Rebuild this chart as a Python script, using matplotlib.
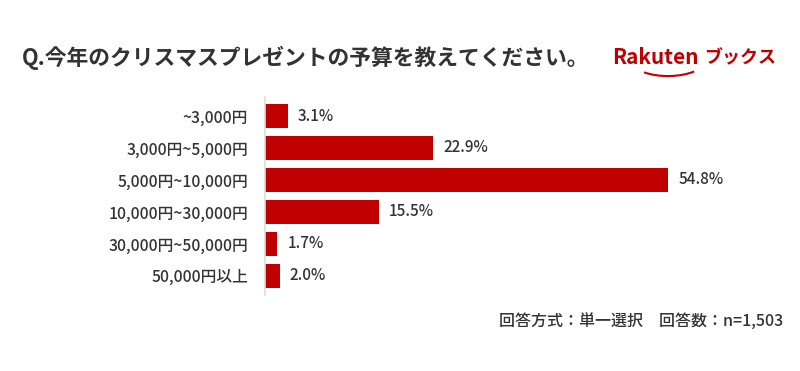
import matplotlib.pyplot as plt
from matplotlib.patches import Arc

plt.rcParams['font.family'] = ['Noto Sans CJK JP', 'DejaVu Sans']

# データ
categories = ["~3,000円", "3,000円~5,000円", "5,000円~10,000円",
              "10,000円~30,000円", "30,000円~50,000円", "50,000円以上"]
values = [3.1, 22.9, 54.8, 15.5, 1.7, 2.0]

bar_color = "#c00000"
text_color = "#333333"

fig = plt.figure(figsize=(8, 3.71), dpi=100)
ax = fig.add_axes([0.331, 0.205, 0.644, 0.534])

y = list(range(len(categories)))
ax.barh(y, values, height=0.75, color=bar_color)
ax.set_ylim(5.6, -0.6)
ax.set_xlim(0, 70)

for yi, v in zip(y, values):
    ax.text(v + 1.4, yi, f"{v:.1f}%", va="center", ha="left",
            fontsize=11, color=text_color, fontweight="medium")

ax.set_yticks(y)
ax.set_yticklabels(categories, fontsize=11.3, color=text_color, fontweight="medium")
ax.tick_params(axis="y", length=0, pad=12)
ax.set_xticks([])
for s in ["top", "right", "bottom"]:
    ax.spines[s].set_visible(False)
ax.spines["left"].set_color("#dddddd")
ax.spines["left"].set_linewidth(1.2)

# タイトル
fig.text(0.027, 0.845, "Q.今年のクリスマスプレゼントの予算を教えてください。",
         fontsize=15.7, fontweight="bold", color=text_color, va="center", ha="left")

# ロゴ
fig.text(0.765, 0.845, "Rakuten", fontsize=15, fontweight="bold",
         color=bar_color, va="center", ha="left")
fig.text(0.880, 0.845, "ブックス", fontsize=13, fontweight="bold",
         color=bar_color, va="center", ha="left")
fig.patches.append(Arc((0.835, 0.835), 0.09, 0.08, theta1=225, theta2=320,
                       transform=fig.transFigure, color=bar_color, lw=1.5))

# 注記
fig.text(0.979, 0.132, "回答方式：単一選択　回答数：n=1,503",
         fontsize=11.5, color=text_color, va="center", ha="right",
         fontweight="medium")

fig.savefig("out.png", dpi=100, facecolor="white")
